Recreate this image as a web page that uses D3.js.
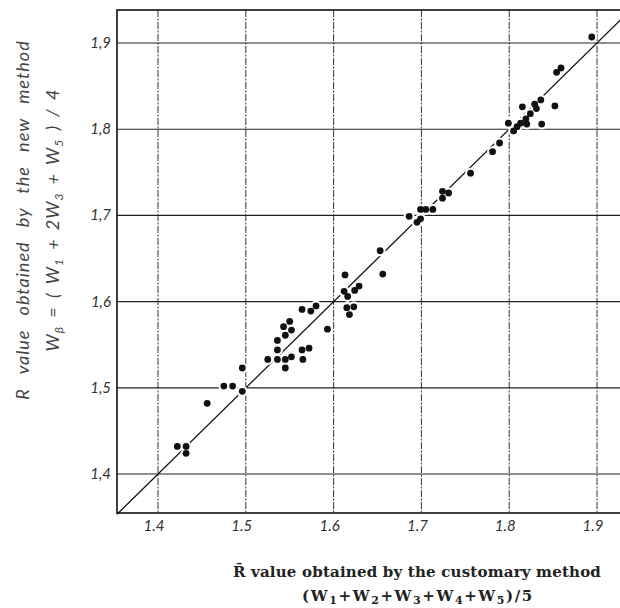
<!DOCTYPE html>
<html lang="en">
<head>
<meta charset="utf-8">
<title>R value comparison</title>
<script src="https://cdn.jsdelivr.net/npm/d3@7"></script>
<style>
  body { margin: 0; background: #fff; }
  svg { display: block; }
</style>
</head>
<body>
<script>
// R value by customary method (x) vs. new method (y)
var customary = [1.422, 1.432, 1.432, 1.456, 1.475, 1.485, 1.496, 1.496, 1.525, 1.536,
  1.536, 1.536, 1.543, 1.550, 1.545, 1.552, 1.545, 1.545, 1.552, 1.564,
  1.572, 1.565, 1.564, 1.574, 1.580, 1.593, 1.613, 1.612, 1.616, 1.615,
  1.623, 1.618, 1.624, 1.629, 1.653, 1.656, 1.686, 1.695, 1.699, 1.699,
  1.705, 1.713, 1.724, 1.724, 1.731, 1.756, 1.781, 1.789, 1.799, 1.805,
  1.809, 1.813, 1.815, 1.819, 1.820, 1.824, 1.829, 1.831, 1.836, 1.837,
  1.852, 1.854, 1.859, 1.894];
var newMethod = [1.432, 1.432, 1.424, 1.482, 1.502, 1.502, 1.496, 1.523, 1.533, 1.533,
  1.544, 1.555, 1.571, 1.577, 1.561, 1.567, 1.523, 1.533, 1.536, 1.544,
  1.546, 1.533, 1.591, 1.589, 1.595, 1.568, 1.631, 1.612, 1.606, 1.593,
  1.594, 1.585, 1.613, 1.618, 1.659, 1.632, 1.699, 1.692, 1.696, 1.707,
  1.707, 1.707, 1.720, 1.728, 1.726, 1.749, 1.774, 1.784, 1.807, 1.798,
  1.803, 1.807, 1.826, 1.812, 1.806, 1.818, 1.829, 1.824, 1.834, 1.806,
  1.827, 1.866, 1.871, 1.907];
var xTicks = [1.4, 1.5, 1.6, 1.7, 1.8, 1.9];
var yTicks = [1.4, 1.5, 1.6, 1.7, 1.8, 1.9];
var xTickLabels = ["1.4", "1.5", "1.6", "1.7", "1.8", "1.9"];
var yTickLabels = ["1,4", "1,5", "1,6", "1,7", "1,8", "1,9"];

var width = 620, height = 608;
var plotLeft = 117, plotRight = 626, plotTop = 10, plotBottom = 513;

var x = d3.scaleLinear().domain([1.3533, 1.9330]).range([plotLeft, plotRight]);
var y = d3.scaleLinear().domain([1.3548, 1.9383]).range([plotBottom, plotTop]);

var svg = d3.select("body").append("svg")
  .attr("width", width)
  .attr("height", height);

var ink = "#111";

// grid
svg.append("g").selectAll("line").data(yTicks).enter().append("line")
  .attr("x1", plotLeft).attr("x2", plotRight)
  .attr("y1", d => y(d)).attr("y2", d => y(d))
  .attr("stroke", "#222").attr("stroke-width", 1.1);

svg.append("g").selectAll("line").data(xTicks).enter().append("line")
  .attr("x1", d => x(d)).attr("x2", d => x(d))
  .attr("y1", plotTop).attr("y2", plotBottom)
  .attr("stroke", "#333").attr("stroke-width", 1)
  .attr("stroke-dasharray", "7,1.5,2,1.5");

// frame
svg.append("rect")
  .attr("x", plotLeft).attr("y", plotTop)
  .attr("width", plotRight - plotLeft).attr("height", plotBottom - plotTop)
  .attr("fill", "none").attr("stroke", ink).attr("stroke-width", 1.6);

// y = x line
var lo = x.domain()[0];
svg.append("line")
  .attr("x1", x(lo)).attr("y1", y(lo))
  .attr("x2", x(1.938)).attr("y2", y(1.938))
  .attr("stroke", ink).attr("stroke-width", 1.3);

// points (white halo breaks the lines like the original)
var pts = customary.map((v, i) => [v, newMethod[i]]);
svg.append("g").selectAll("circle").data(pts).enter().append("circle")
  .attr("cx", d => x(d[0])).attr("cy", d => y(d[1]))
  .attr("r", 5.5).attr("fill", "#fff");
svg.append("g").selectAll("circle").data(pts).enter().append("circle")
  .attr("cx", d => x(d[0])).attr("cy", d => y(d[1]))
  .attr("r", 3.4).attr("fill", ink);

// tick labels
var tickFont = "Lato, 'DejaVu Sans', sans-serif";
svg.append("g").selectAll("text").data(xTicks).enter().append("text")
  .attr("x", d => x(d) - 4).attr("y", 531)
  .attr("text-anchor", "middle")
  .style("font-family", tickFont).style("font-style", "italic")
  .style("font-size", "15px").attr("fill", "#333")
  .text((d, i) => xTickLabels[i]);

svg.append("g").selectAll("text").data(yTicks).enter().append("text")
  .attr("x", 111).attr("y", d => y(d) + 5)
  .attr("text-anchor", "end")
  .style("font-family", tickFont).style("font-style", "italic")
  .style("font-size", "15px").attr("fill", "#333")
  .text((d, i) => yTickLabels[i]);

// y axis title
var yt = svg.append("g").attr("transform", "translate(29,220) rotate(-90)");
yt.append("text")
  .attr("text-anchor", "middle")
  .style("font-family", tickFont).style("font-style", "italic")
  .style("font-size", "18px").style("letter-spacing", "1px")
  .style("word-spacing", "9px").attr("fill", "#444")
  .text("R      value  obtained  by  the  new  method");
var yt2 = yt.append("text")
  .attr("y", 30)
  .attr("text-anchor", "middle")
  .style("font-family", tickFont).style("font-style", "italic")
  .style("font-size", "18px").style("letter-spacing", "1px")
  .style("word-spacing", "3px").attr("fill", "#444");
yt2.append("tspan").text("W");
yt2.append("tspan").attr("dy", 4).style("font-size", "12px").text("β");
yt2.append("tspan").attr("dy", -4).text("  =  (  W");
yt2.append("tspan").attr("dy", 4).style("font-size", "12px").text("1");
yt2.append("tspan").attr("dy", -4).text("  +  2W");
yt2.append("tspan").attr("dy", 4).style("font-size", "12px").text("3");
yt2.append("tspan").attr("dy", -4).text("  +  W");
yt2.append("tspan").attr("dy", 4).style("font-size", "12px").text("5");
yt2.append("tspan").attr("dy", -4).text(" )  /  4");

// x axis title
var serif = "'DejaVu Serif', 'Liberation Serif', serif";
svg.append("text")
  .attr("x", 417).attr("y", 577)
  .attr("text-anchor", "middle")
  .style("font-family", serif).style("font-weight", "bold")
  .style("font-size", "15px").style("letter-spacing", "0.2px").attr("fill", "#222")
  .text("R\u0304 value obtained by the customary method");
var xt2 = svg.append("text")
  .attr("x", 418).attr("y", 601)
  .attr("text-anchor", "middle")
  .style("font-family", serif).style("font-weight", "bold")
  .style("font-size", "15px").style("letter-spacing", "1.6px").attr("fill", "#222");
var parts = [["(W", "1"], ["+W", "2"], ["+W", "3"], ["+W", "4"], ["+W", "5"]];
parts.forEach(function (p, i) {
  xt2.append("tspan").attr("dy", i === 0 ? 0 : -3).text(p[0]);
  xt2.append("tspan").attr("dy", 3).style("font-size", "11px").text(p[1]);
});
xt2.append("tspan").attr("dy", -3).text(")/5");
</script>
</body>
</html>
